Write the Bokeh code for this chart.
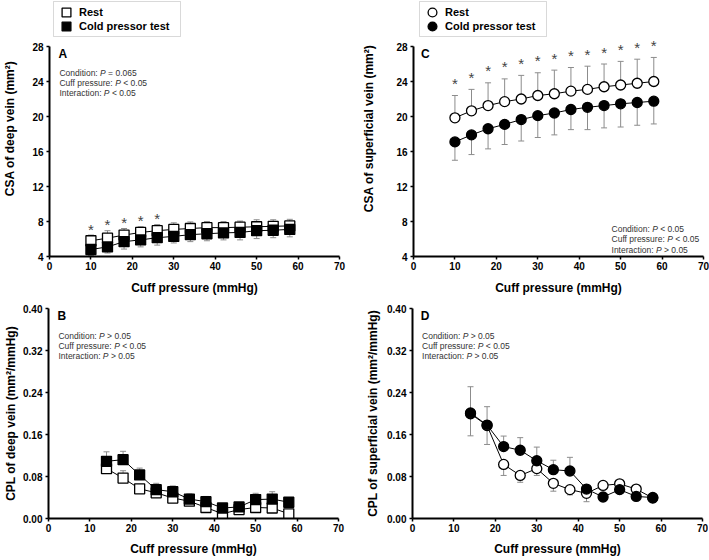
from bokeh.plotting import figure
from bokeh.models import (Range1d, FixedTicker, PrintfTickFormatter, Whisker, TeeHead,
                          ColumnDataSource, Legend, LegendItem, BoxAnnotation)
from bokeh.layouts import column, row
from bokeh.core.properties import value
from bokeh.embed import file_html
from bokeh.resources import INLINE

FONT = "Liberation Sans"

# ---------------- data ----------------
pressure_csa = [10, 14, 18, 22, 26, 30, 34, 38, 42, 46, 50, 54, 58]
pressure_cpl = [14, 18, 22, 26, 30, 34, 38, 42, 46, 50, 54, 58]

# A: CSA of deep vein
deep_csa_rest = [5.8, 6.1, 6.45, 6.75, 6.95, 7.1, 7.2, 7.3, 7.3, 7.35, 7.4, 7.45, 7.5]
deep_csa_rest_sd = [0.65, 0.85, 0.75, 0.65, 0.7, 0.75, 0.75, 0.7, 0.7, 0.7, 0.8, 0.75, 0.75]
deep_csa_cpt = [4.8, 5.1, 5.7, 5.9, 6.15, 6.3, 6.5, 6.6, 6.7, 6.75, 6.95, 7.0, 7.1]
deep_csa_cpt_sd = [0.7, 0.7, 0.85, 0.8, 0.85, 0.75, 0.8, 0.8, 0.8, 0.85, 0.9, 0.85, 0.85]
deep_csa_sig = [10, 14, 18, 22, 26]

# C: CSA of superficial vein
sup_csa_rest = [19.85, 20.65, 21.25, 21.7, 22.0, 22.4, 22.6, 22.9, 23.1, 23.4, 23.6, 23.8, 24.0]
sup_csa_rest_sd = [2.55, 2.45, 2.6, 2.6, 2.7, 2.6, 2.7, 2.7, 2.65, 2.6, 2.7, 2.75, 2.75]
sup_csa_cpt = [17.1, 17.9, 18.6, 19.1, 19.65, 20.1, 20.4, 20.8, 21.05, 21.25, 21.45, 21.6, 21.75]
sup_csa_cpt_sd = [2.1, 2.25, 2.3, 2.3, 2.45, 2.5, 2.5, 2.3, 2.55, 2.55, 2.65, 2.6, 2.6]
sup_csa_sig = [10, 14, 18, 22, 26, 30, 34, 38, 42, 46, 50, 54, 58]

# B: CPL of deep vein
deep_cpl_rest = [0.095, 0.077, 0.0565, 0.049, 0.039, 0.033, 0.021, 0.009, 0.017, 0.021, 0.020, 0.009]
deep_cpl_rest_sd = [0.010, 0.014, 0.008, 0.007, 0.006, 0.006, 0.006, 0.005, 0.005, 0.006, 0.006, 0.005]
deep_cpl_cpt = [0.109, 0.112, 0.083, 0.055, 0.051, 0.037, 0.032, 0.020, 0.022, 0.036, 0.037, 0.031]
deep_cpl_cpt_sd = [0.018, 0.016, 0.013, 0.012, 0.011, 0.010, 0.010, 0.007, 0.007, 0.012, 0.014, 0.009]

# D: CPL of superficial vein
sup_cpl_rest = [0.1995, 0.177, 0.103, 0.082, 0.095, 0.067, 0.055, 0.048, 0.063, 0.066, 0.056, 0.039]
sup_cpl_rest_sd = [0.042, 0.036, 0.021, 0.013, 0.013, 0.015, 0.010, 0.016, 0.008, 0.008, 0.008, 0.008]
sup_cpl_cpt = [0.201, 0.178, 0.137, 0.130, 0.110, 0.093, 0.0905, 0.056, 0.041, 0.055, 0.042, 0.040]
sup_cpl_cpt_sd = [0.050, 0.035, 0.020, 0.024, 0.026, 0.018, 0.026, 0.008, 0.006, 0.006, 0.006, 0.006]

x_ticks = [0, 10, 20, 30, 40, 50, 60, 70]
csa_ticks = [4, 8, 12, 16, 20, 24, 28]
cpl_ticks = [0.0, 0.08, 0.16, 0.24, 0.32, 0.40]

stat_names = ["Condition:", "Cuff pressure:", "Interaction:"]
stats_A = ["= 0.065", "< 0.05", "< 0.05"]
stats_B = ["> 0.05", "< 0.05", "> 0.05"]
stats_C = ["< 0.05", "< 0.05", "> 0.05"]
stats_D = ["> 0.05", "< 0.05", "> 0.05"]

legend_labels = ["Rest", "Cold pressor test"]

# ---------------- style ----------------
FW = 290
FH = 210                      # height of the 4..28 / 0..0.40 span
FH_TOP = 256                  # top-row frame extended upward to hold the legend
CSA_RANGE = (4, 4 + 24 * FH_TOP / FH)
X_PX = FW / 70.0              # px per mmHg
Y_PX = FH / 24.0              # px per mm2 (top row)
ERR = "#8c8c8c"
MS = 10
STAT_FS = 8.5
PREFIX_EM = {"Condition:": 4.502, "Cuff pressure:": 6.280, "Interaction:": 4.947}
SPACE_EM, P_EM = 0.278, 0.667


def make_fig(ylabel, yr, ybounds, fh, yticks, yfmt, left, right, top, bottom, ylab_so, xlab_so):
    p = figure(frame_width=FW, frame_height=fh,
               min_border_left=left, min_border_right=right,
               min_border_top=top, min_border_bottom=bottom,
               x_range=Range1d(0, 70), y_range=Range1d(*yr),
               output_backend="svg", toolbar_location=None,
               outline_line_color=None, background_fill_color="white")
    p.xgrid.visible = False
    p.ygrid.visible = False
    for ax in (p.xaxis[0], p.yaxis[0]):
        ax.axis_line_width = 2
        ax.axis_line_color = "black"
        ax.major_tick_line_width = 1.5
        ax.major_tick_line_color = "black"
        ax.major_tick_in = 0
        ax.major_tick_out = 3
        ax.minor_tick_line_color = None
        ax.major_label_text_font = FONT
        ax.major_label_text_font_style = "bold"
        ax.major_label_text_font_size = "10px"
        ax.major_label_text_color = "black"
        ax.axis_label_text_font = FONT
        ax.axis_label_text_font_style = "bold"
        ax.axis_label_text_font_size = "12px"
        ax.axis_label_text_color = "black"
    p.xaxis.ticker = FixedTicker(ticks=x_ticks)
    p.xaxis.axis_label = "Cuff pressure (mmHg)"
    p.xaxis.major_label_standoff = 2
    p.xaxis.axis_label_standoff = xlab_so
    p.yaxis.ticker = FixedTicker(ticks=yticks)
    p.yaxis.bounds = ybounds
    p.yaxis.axis_label = ylabel
    p.yaxis.major_label_standoff = 3
    p.yaxis.axis_label_standoff = ylab_so
    if yfmt:
        p.yaxis.formatter = PrintfTickFormatter(format=yfmt)
    return p


def add_series(p, x, mean, sd, up, marker, filled):
    if up:
        upper = [m + s for m, s in zip(mean, sd)]
        lower = list(mean)
    else:
        upper = list(mean)
        lower = [m - s for m, s in zip(mean, sd)]
    src = ColumnDataSource(dict(x=x, y=mean, upper=upper, lower=lower))
    head = TeeHead(size=6, line_color=ERR, line_width=1)
    w = Whisker(base="x", upper="upper", lower="lower", source=src,
                line_color=ERR, line_width=1, level="underlay",
                upper_head=head if up else None,
                lower_head=None if up else head)
    p.add_layout(w)
    p.line("x", "y", source=src, line_color="black", line_width=1)
    r = p.scatter("x", "y", source=src, marker=marker, size=MS,
                  fill_color="black" if filled else "white",
                  line_color="black", line_width=1.3)
    return r


def add_stats(p, x, ys, values):
    fs = STAT_FS
    common = dict(text_font=value(FONT), text_font_size=f"{fs}px",
                  text_color="#333333", text_baseline="middle", text_align="left")
    for name, val, y in zip(stat_names, values, ys):
        w0 = PREFIX_EM[name] * fs
        p.text(x=[x], y=[y], text=[name], **common)
        p.text(x=[x], y=[y], text=["P"], x_offset=w0 + SPACE_EM * fs,
               text_font_style="italic", **common)
        p.text(x=[x], y=[y], text=[val],
               x_offset=w0 + (2 * SPACE_EM + P_EM) * fs, **common)


def add_letter(p, x, y, letter):
    p.text(x=[x], y=[y], text=[letter], text_font=value(FONT), text_font_size="12px",
           text_font_style="bold", text_color="black", text_baseline="top", text_align="left")


def add_stars(p, x_all, mean, sd, sig, offset):
    xs, ys = [], []
    for xv, m, s in zip(x_all, mean, sd):
        if xv in sig:
            xs.append(xv)
            ys.append(m + s)
    p.text(x=xs, y=ys, text=["*"] * len(xs), text_font=value(FONT), text_font_size="15px",
           text_color="#444444", text_align="center", text_baseline="middle", y_offset=offset)


def add_legend(p, renderers, box_left_px, box_right_px):
    """Framed legend above the data area: box from page y=1 to 36, items at y=12 and 26."""
    top_y = CSA_RANGE[1]
    box = BoxAnnotation(left=box_left_px / X_PX, right=box_right_px / X_PX,
                        top=top_y - 1 / Y_PX, bottom=top_y - 36 / Y_PX,
                        fill_color=None, fill_alpha=0,
                        line_color="#808080", line_width=1)
    p.add_layout(box)
    for label, r, centre in zip(legend_labels, renderers, (12, 26)):
        leg = Legend(items=[LegendItem(label=label, renderers=[r])],
                     location=(box_left_px, FH_TOP - centre - 11), orientation="vertical",
                     glyph_width=26, glyph_height=22, label_height=11,
                     label_standoff=0, spacing=0, padding=0, margin=0,
                     label_text_font=FONT, label_text_font_size="11px",
                     label_text_font_style="bold", label_text_color="black",
                     border_line_color=None, background_fill_color=None,
                     background_fill_alpha=0)
        p.add_layout(leg)


# ---------------- Panel A ----------------
pA = make_fig("CSA of deep vein (mm²)", CSA_RANGE, (4, 28), FH_TOP, csa_ticks, None,
              48, 17, 0, 43, 12, 8)
rA_rest = add_series(pA, pressure_csa, deep_csa_rest, deep_csa_rest_sd, True, "square", False)
rA_cpt = add_series(pA, pressure_csa, deep_csa_cpt, deep_csa_cpt_sd, False, "square", True)
add_stars(pA, pressure_csa, deep_csa_rest, deep_csa_rest_sd, deep_csa_sig, -6)
add_letter(pA, 2.2, 28, "A")
add_stats(pA, 2.4, [25.0, 23.85, 22.7], stats_A)
add_legend(pA, [rA_rest, rA_cpt], 4, 131)

# ---------------- Panel C ----------------
pC = make_fig("CSA of superficial vein (mm²)", CSA_RANGE, (4, 28), FH_TOP, csa_ticks, None,
              57, 6, 0, 43, 17, 8)
rC_rest = add_series(pC, pressure_csa, sup_csa_rest, sup_csa_rest_sd, True, "circle", False)
rC_cpt = add_series(pC, pressure_csa, sup_csa_cpt, sup_csa_cpt_sd, False, "circle", True)
add_stars(pC, pressure_csa, sup_csa_rest, sup_csa_rest_sd, sup_csa_sig, -12)
add_letter(pC, 1.8, 28, "C")
add_stats(pC, 47.8, [7.1, 5.95, 4.8], stats_C)
add_legend(pC, [rC_rest, rC_cpt], 6, 133)

# ---------------- Panel B ----------------
pB = make_fig("CPL of deep vein (mm²/mmHg)", (0, 0.40), (0, 0.40), FH, cpl_ticks, "%.2f",
              48, 17, 9, 40, 2, 7)
add_series(pB, pressure_cpl, deep_cpl_rest, deep_cpl_rest_sd, True, "square", False)
add_series(pB, pressure_cpl, deep_cpl_cpt, deep_cpl_cpt_sd, True, "square", True)
add_letter(pB, 2.2, 0.40, "B")
add_stats(pB, 2.4, [0.348, 0.329, 0.310], stats_B)

# ---------------- Panel D ----------------
pD = make_fig("CPL of superficial vein (mm²/mmHg)", (0, 0.40), (0, 0.40), FH, cpl_ticks, "%.2f",
              57, 6, 9, 40, 4, 7)
add_series(pD, pressure_cpl, sup_cpl_rest, sup_cpl_rest_sd, False, "circle", False)
add_series(pD, pressure_cpl, sup_cpl_cpt, sup_cpl_cpt_sd, True, "circle", True)
add_letter(pD, 2.0, 0.40, "D")
add_stats(pD, 2.3, [0.348, 0.329, 0.310], stats_D)

layout = column(row(pA, pC), row(pB, pD))

open("out.html", "w").write(file_html(layout, INLINE))
